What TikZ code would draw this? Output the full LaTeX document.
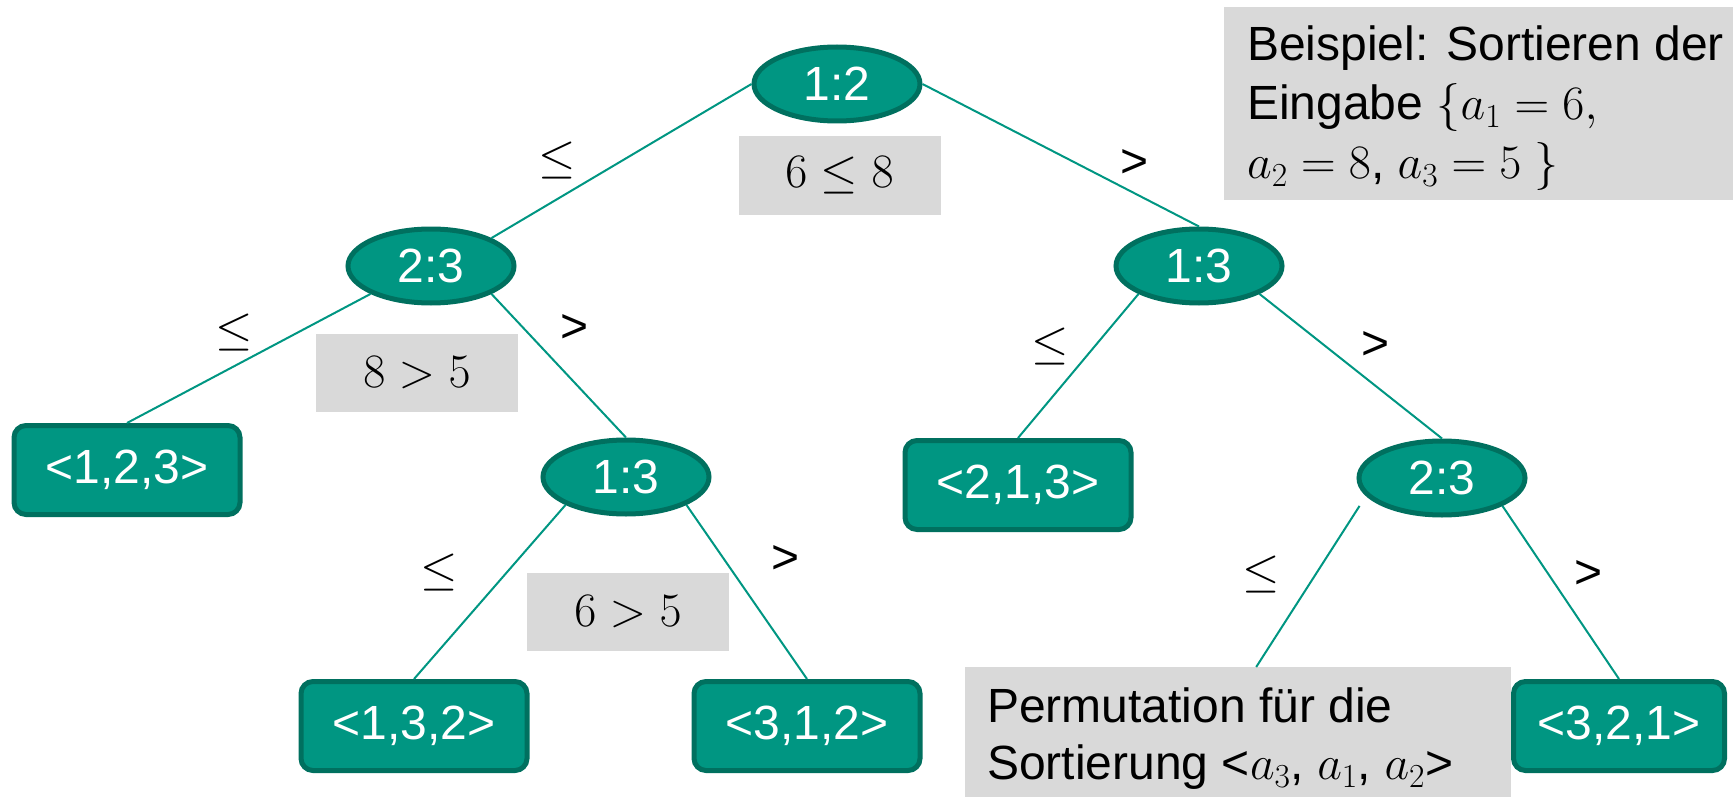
\RequirePackage{fix-cm}
\documentclass[tikz,border=0pt]{standalone}
\usepackage[no-math]{fontspec}
\setmainfont{Liberation Sans}
\usetikzlibrary{shapes.geometric}

\definecolor{kitgreen}{RGB}{0,150,130}
\definecolor{kitdark}{RGB}{0,112,95}
\definecolor{notegray}{RGB}{217,217,217}

\newcommand{\bigtext}{\fontsize{48}{59}\selectfont}

\begin{document}
\begin{tikzpicture}[x=1pt,y=-1pt,
  cmp/.style={ellipse, draw=kitdark, line width=5pt, fill=kitgreen, text=white,
    minimum width=166pt, minimum height=74pt, inner sep=0pt, font=\bigtext},
  leaf/.style={rectangle, rounded corners=12pt, draw=kitdark, line width=5pt,
    fill=kitgreen, text=white, minimum width=226pt, minimum height=89pt,
    inner sep=0pt, font=\bigtext},
  cond/.style={rectangle, fill=notegray, minimum width=202pt, minimum height=78pt,
    inner sep=0pt, font=\bigtext},
  note/.style={rectangle, fill=notegray, inner sep=0pt, anchor=north west},
  notetext/.style={inner sep=0pt, anchor=north west, align=left, font=\bigtext},
  rel/.style={inner sep=0pt, font=\bigtext},
  branch/.style={draw=kitgreen, line width=2pt}
]
\useasboundingbox (0,0) rectangle (1733,797);

% comparison nodes
\node[cmp] (root) at (837,84)  {1:2};
\node[cmp] (l23)  at (431,266) {2:3};
\node[cmp] (r13)  at (1199,266) {1:3};
\node[cmp] (m13)  at (626,477) {1:3};
\node[cmp] (r23)  at (1442,478) {2:3};

% leaves: resulting permutations
\node[leaf] (p123) at (127,470)  {<1,2,3>};
\node[leaf] (p213) at (1018,485) {<2,1,3>};
\node[leaf] (p132) at (414,726)  {<1,3,2>};
\node[leaf] (p312) at (807,726)  {<3,1,2>};
\node[leaf, minimum width=211pt] (p321) at (1619,726) {<3,2,1>};

% evaluated comparisons
\node[cond] (c1) at (839.5,175.5) {$6 \le 8$};
\node[cond] (c2) at (417,373)     {$8 > 5$};
\node[cond] (c3) at (628,611.5)   {$6 > 5$};

% example input
\node[note, minimum width=509pt, minimum height=193pt] (ex) at (1224,7) {};
\node[notetext] (extext) at (1247,26)
  {Beispiel: Sortieren der\\ Eingabe $\{a_1 = 6,$\\ $a_2 = 8$, $a_3 = 5\;\}$};

% resulting permutation
\node[note, minimum width=546pt, minimum height=130pt] (perm) at (965,667) {};
\node[notetext, font=\fontsize{48}{57}\selectfont] (permtext) at (987,688)
  {Permutation für die\\ Sortierung <$a_3$, $a_1$, $a_2$>};

% branches
\draw[branch] (root.west) -- (l23.north east);
\draw[branch] (root.east) -- (r13.north);
\draw[branch] (l23.south west) -- (p123.north);
\draw[branch] (l23.south east) -- (m13.north);
\draw[branch] (m13.south west) -- (p132.north);
\draw[branch] (m13.south east) -- (p312.north);
\draw[branch] (r13.south west) -- (p213.north);
\draw[branch] (r13.south east) -- (r23.north);
\draw[branch] ([xshift=-22pt]r23.south west) -- ([xshift=18pt]perm.north);
\draw[branch] (r23.south east) -- (p321.north);

% branch labels
\node[rel] (e1)  at (557,161)  {$\le$};
\node[rel] (e2)  at (1135,164) {>};
\node[rel] (e3)  at (234,332)  {$\le$};
\node[rel] (e4)  at (575,329)  {>};
\node[rel] (e5)  at (1050,346) {$\le$};
\node[rel] (e6)  at (1376,346) {>};
\node[rel] (e7)  at (439,572)  {$\le$};
\node[rel] (e8)  at (786,560)  {>};
\node[rel] (e9)  at (1261,574) {$\le$};
\node[rel] (e10) at (1588,575) {>};
\end{tikzpicture}
\end{document}
